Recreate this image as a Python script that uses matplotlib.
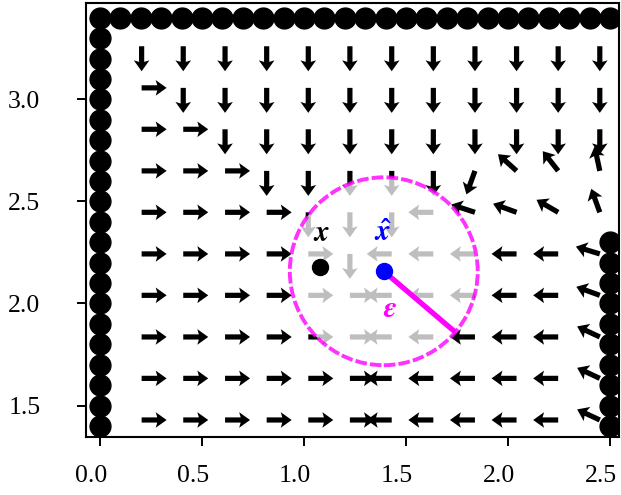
import numpy as np
import matplotlib
matplotlib.use("Agg")
import matplotlib.pyplot as plt
from matplotlib.patches import Circle
from matplotlib.transforms import ScaledTranslation

plt.rcParams["font.family"] = ["Liberation Serif", "DejaVu Serif"]
plt.rcParams["mathtext.fontset"] = "custom"
plt.rcParams["mathtext.it"] = "STIXGeneral:italic:bold"
plt.rcParams["mathtext.rm"] = "STIXGeneral:bold"
plt.rcParams["mathtext.bf"] = "STIXGeneral:italic:bold"

# ---- data -------------------------------------------------------------
# arrow tail grid
grid_x = [0.204, 0.408, 0.613, 0.817, 1.021, 1.225, 1.430, 1.634, 1.838, 2.042, 2.246, 2.450]
grid_y = [1.429, 1.633, 1.836, 2.040, 2.243, 2.447, 2.650, 2.854, 3.057, 3.261]

# arrow directions (degrees), rows from bottom to top
R, D, L = 0, -90, 180
angles = [
    [R, R, R, R, R, R, L, L, L, L, L, 155],
    [R, R, R, R, R, R, L, L, L, L, L, 155],
    [R, R, R, R, R, R, L, L, L, L, L, 155],
    [R, R, R, R, R, R, L, L, L, L, L, 160],
    [R, R, R, R, R, D, L, L, L, L, L, 163],
    [R, R, R, R, D, D, D, L, 162, 160, 150, 110],
    [R, R, R, D, D, D, D, D, -110, 138, 128, 102],
    [R, R, D, D, D, D, D, D, D, D, D, D],
    [R, D, D, D, D, D, D, D, D, D, D, D],
    [D, D, D, D, D, D, D, D, D, D, D, D],
]

# wall points
top_wall_x = [0.0, 0.1, 0.2, 0.3, 0.4, 0.5, 0.6, 0.7, 0.8, 0.9, 1.0, 1.1, 1.2,
              1.3, 1.4, 1.5, 1.6, 1.7, 1.8, 1.9, 2.0, 2.1, 2.2, 2.3, 2.4, 2.5]
top_wall_y = 3.4
left_wall_x = 0.0
left_wall_y = [1.4, 1.5, 1.6, 1.7, 1.8, 1.9, 2.0, 2.1, 2.2, 2.3, 2.4, 2.5,
               2.6, 2.7, 2.8, 2.9, 3.0, 3.1, 3.2, 3.3]
right_wall_x = 2.5
right_wall_y = [1.4, 1.5, 1.6, 1.7, 1.8, 1.9, 2.0, 2.1, 2.2, 2.3]

x_pt = (1.078, 2.177)
xhat_pt = (1.391, 2.158)
eps_radius = 0.4605
eps_angle = -40.4

xticks = [0.0, 0.5, 1.0, 1.5, 2.0, 2.5]
xticklabels = ["0.0", "0.5", "1.0", "1.5", "2.0", "2.5"]
yticks = [1.5, 2.0, 2.5, 3.0]
yticklabels = ["1.5", "2.0", "2.5", "3.0"]

# ---- figure -----------------------------------------------------------
W, H = 621, 495
fig = plt.figure(figsize=(W / 100, H / 100), dpi=100)
ax = fig.add_axes([85.5 / W, 1 - 437 / H, 533 / W, 434 / H])

X, Y = np.meshgrid(grid_x, grid_y)
A = np.deg2rad(np.array(angles, dtype=float))
U = np.cos(A)
V = np.sin(A)
arrow_px = 25.0
ax.quiver(X, Y, U, V, pivot="tail", angles="uv", scale_units="dots",
          scale=1 / arrow_px, units="dots", width=5.2, headwidth=3.0,
          headlength=2.1, headaxislength=1.8, color="black", zorder=2)

# epsilon ball
ax.add_patch(Circle(xhat_pt, eps_radius, facecolor=(1, 1, 1, 0.75),
                    edgecolor="none", zorder=3))
ax.add_patch(Circle(xhat_pt, eps_radius, fill=False,
                    edgecolor=(1, 0, 1, 0.8), lw=2.8,
                    linestyle=(0, (3, 0.8)), zorder=3.5))
ea = np.deg2rad(eps_angle)
ax.plot([xhat_pt[0], xhat_pt[0] + eps_radius * np.cos(ea)],
        [xhat_pt[1], xhat_pt[1] + eps_radius * np.sin(ea)],
        color="magenta", lw=3.8, solid_capstyle="butt", zorder=4)

# walls
ax.plot(top_wall_x, [top_wall_y] * len(top_wall_x), "o", color="black", ms=15, zorder=5)
ax.plot([left_wall_x] * len(left_wall_y), left_wall_y, "o", color="black", ms=15, zorder=5)
ax.plot([right_wall_x] * len(right_wall_y), right_wall_y, "o", color="black", ms=15, zorder=5)

# points
ax.plot([x_pt[0]], [x_pt[1]], "o", color="black", ms=11.5, zorder=6)
ax.plot([xhat_pt[0]], [xhat_pt[1]], "o", color="blue", ms=11.5, zorder=6)
ax.text(1.087, 2.308, r"$x$", color="black", fontsize=21, ha="center", va="baseline", zorder=7)
ax.text(1.389, 2.308, r"$\hat{x}$", color="blue", fontsize=21, ha="center", va="baseline", zorder=7)
ax.text(1.422, 1.935, r"$\epsilon$", color="magenta", fontsize=21, ha="center", va="baseline", zorder=7)

ax.set_xlim(-0.0711, 2.5417)
ax.set_ylim(1.3456, 3.473)
ax.set_xticks(xticks)
ax.set_xticklabels(xticklabels)
ax.set_yticks(yticks)
ax.set_yticklabels(yticklabels)
ax.tick_params(axis="both", direction="out", length=6.5, width=1.4, labelsize=18.5)
ax.tick_params(axis="x", pad=14)
ax.tick_params(axis="y", pad=26)
for s in ax.spines.values():
    s.set_linewidth(1.5)

shift = ScaledTranslation(-9 / 100, 0, fig.dpi_scale_trans)
for lab in ax.get_xticklabels():
    lab.set_transform(lab.get_transform() + shift)

fig.savefig("out.png", dpi=100)
